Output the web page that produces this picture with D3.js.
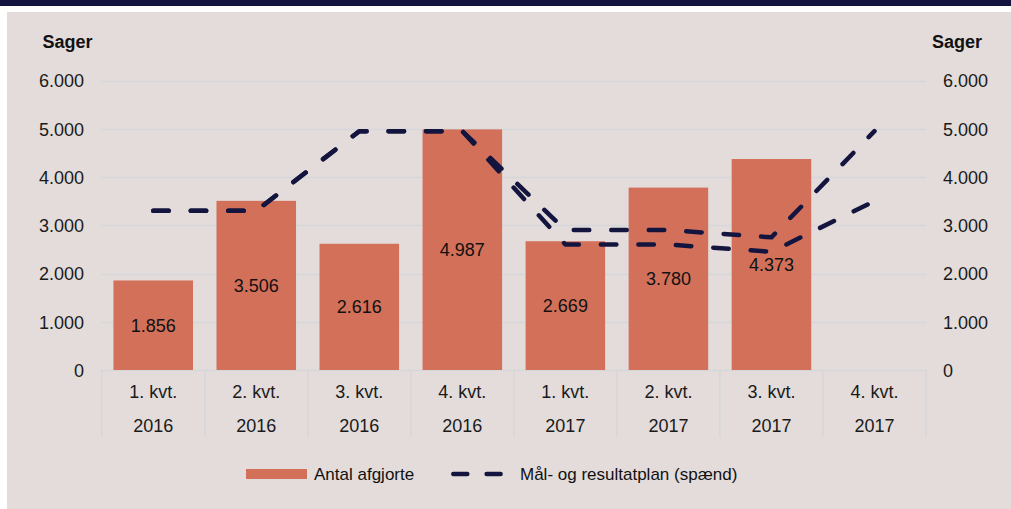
<!DOCTYPE html>
<html><head><meta charset="utf-8">
<script src="https://cdn.jsdelivr.net/npm/d3@7"></script>
<style>
html,body{margin:0;padding:0;background:#ffffff;}
svg{display:block;font-family:"Liberation Sans",Arial,Helvetica,sans-serif;}
</style></head>
<body>
<svg id="c" width="1011" height="509"></svg>
<script>
const quarters = ["1. kvt.","2. kvt.","3. kvt.","4. kvt.","1. kvt.","2. kvt.","3. kvt.","4. kvt."];
const years = ["2016","2016","2016","2016","2017","2017","2017","2017"];
const antal = [1856, 3506, 2616, 4987, 2669, 3780, 4373];
const maalHoej = [3300, 3300, 4950, 4950, 2900, 2900, 2750, 4950];
const maalLav = [3300, 3300, 4950, 4950, 2600, 2600, 2450, 3500];
const yTicks = [0, 1000, 2000, 3000, 4000, 5000, 6000];
const seriesNames = ["Antal afgjorte", "Mål- og resultatplan (spænd)"];

const svg = d3.select("#c");
const navy = "#14153f", barCol = "#d2705a", grid = "#d7d6da", panel = "#e3dcdb";

svg.append("rect").attr("x",0).attr("y",0).attr("width",1011).attr("height",6).attr("fill",navy);
svg.append("rect").attr("x",7).attr("y",12).attr("width",1004).attr("height",497).attr("fill",panel);

const idx = d3.range(quarters.length);
const x = d3.scaleBand().domain(idx).range([101.7, 926]).paddingInner(0.228).paddingOuter(0.114);
const y = d3.scaleLinear().domain([0, 6000]).range([370, 80.5]);
const step = x.step();
const x0 = 101.7;

// gridlines
svg.append("g").selectAll("line").data(yTicks).join("line")
  .attr("x1", x0).attr("x2", 926).attr("y1", d => Math.round(y(d))+0.5).attr("y2", d => Math.round(y(d))+0.5)
  .attr("stroke", grid).attr("stroke-width", 1.5);

// category separators
svg.append("g").selectAll("line").data(d3.range(quarters.length+1)).join("line")
  .attr("x1", i => x0 + i*step).attr("x2", i => x0 + i*step)
  .attr("y1", 370).attr("y2", 437).attr("stroke", grid).attr("stroke-width", 1.5);

const fmt = v => d3.format(",")(v).replace(/,/g, ".");

// y axis labels
const yl = d3.axisLeft(y).tickValues(yTicks).tickFormat(fmt).tickSize(0).tickPadding(0);
const gl = svg.append("g").attr("transform","translate(84,0)").call(yl);
gl.select(".domain").remove();
gl.selectAll("text").attr("font-size",18).attr("fill","#1a1a1a").attr("font-family","Liberation Sans, Arial, sans-serif").attr("dy","0.35em");
const yr = d3.axisRight(y).tickValues(yTicks).tickFormat(fmt).tickSize(0).tickPadding(0);
const gr = svg.append("g").attr("transform","translate(943,0)").call(yr);
gr.select(".domain").remove();
gr.selectAll("text").attr("font-size",18).attr("fill","#1a1a1a").attr("font-family","Liberation Sans, Arial, sans-serif").attr("dy","0.35em");

svg.append("text").attr("x",67.5).attr("y",42).attr("dy","0.35em").attr("text-anchor","middle")
  .attr("font-size",18).attr("font-weight","bold").attr("fill","#111").text("Sager");
svg.append("text").attr("x",957).attr("y",42).attr("dy","0.35em").attr("text-anchor","middle")
  .attr("font-size",18).attr("font-weight","bold").attr("fill","#111").text("Sager");

// x labels
svg.append("g").selectAll("text").data(idx).join("text")
  .attr("x", i => x(i) + x.bandwidth()/2).attr("y", 392).attr("dy","0.35em").attr("text-anchor","middle")
  .attr("font-size",18).attr("fill","#1a1a1a").text(i => quarters[i]);
svg.append("g").selectAll("text").data(idx).join("text")
  .attr("x", i => x(i) + x.bandwidth()/2).attr("y", 426).attr("dy","0.35em").attr("text-anchor","middle")
  .attr("font-size",18).attr("fill","#1a1a1a").text(i => years[i]);

// bars
svg.append("g").selectAll("rect").data(antal).join("rect")
  .attr("x", (d,i) => x(i)).attr("width", x.bandwidth())
  .attr("y", d => y(d)).attr("height", d => y(0) - y(d))
  .attr("fill", barCol);
svg.append("g").selectAll("text").data(antal).join("text")
  .attr("x", (d,i) => x(i) + x.bandwidth()/2).attr("y", d => (y(d)+y(0))/2).attr("dy","0.35em")
  .attr("text-anchor","middle").attr("font-size",18).attr("fill","#111").text(d => fmt(d));

// dashed lines
const line = d3.line().x((d,i) => x(i) + x.bandwidth()/2).y(d => y(d));
[maalLav, maalHoej].forEach(arr => {
  svg.append("path").attr("d", line(arr)).attr("fill","none").attr("stroke",navy)
    .attr("stroke-width",4.5).attr("stroke-linecap","round").attr("stroke-linejoin","round")
    .attr("stroke-dasharray","15.5,22");
});

// legend
svg.append("rect").attr("x",246).attr("y",469).attr("width",61).attr("height",10).attr("fill",barCol);
svg.append("text").attr("x",314).attr("y",474).attr("dy","0.35em").attr("font-size",17).attr("fill","#111").text(seriesNames[0]);
svg.append("line").attr("x1",453.3).attr("x2",501).attr("y1",474).attr("y2",474).attr("stroke",navy)
  .attr("stroke-width",4.5).attr("stroke-linecap","round").attr("stroke-dasharray","14,19.3");
svg.append("text").attr("x",520).attr("y",474).attr("dy","0.35em").attr("font-size",17).attr("fill","#111").text(seriesNames[1]);
</script>
</body></html>
